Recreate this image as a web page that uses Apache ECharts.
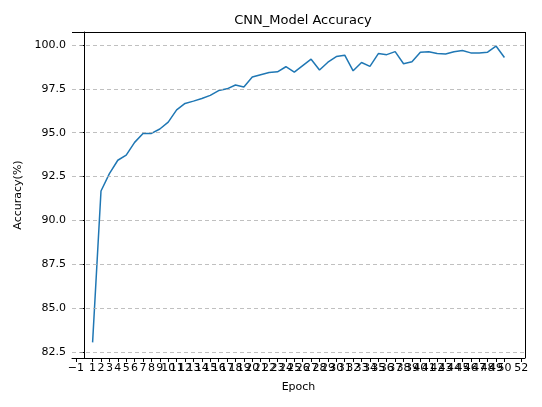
<!DOCTYPE html>
<html>
<head>
<meta charset="utf-8">
<script src="https://cdn.jsdelivr.net/npm/echarts@6/dist/echarts.min.js"></script>
<style>html,body{margin:0;padding:0;background:#fff}#c{width:542px;height:407px}</style>
</head>
<body>
<div id="c"></div>
<script>
var epochs = [];
for (var e = 1; e <= 50; e++) epochs.push(e);
var accuracy = [83.05, 91.68, 92.67, 93.43, 93.72, 94.45, 94.96, 94.96, 95.21, 95.6,
  96.3, 96.67, 96.8, 96.95, 97.13, 97.4, 97.5, 97.72, 97.6, 98.17,
  98.3, 98.43, 98.47, 98.76, 98.45, 98.82, 99.19, 98.57, 99.02, 99.34,
  99.42, 98.53, 99.0, 98.78, 99.51, 99.45, 99.62, 98.93, 99.04, 99.59,
  99.62, 99.51, 99.49, 99.62, 99.68, 99.55, 99.55, 99.59, 99.94, 99.29];
var xTicks = [];
for (var t = -1; t <= 52; t++) xTicks.push(t);
var yTicks = [82.5, 85, 87.5, 90, 92.5, 95, 97.5, 100];

var font = 'DejaVu Sans';
var ec = echarts.init(document.getElementById('c'));
ec.setOption({
  animation: false,
  title: {
    text: 'CNN_Model Accuracy', left: 298, top: 9, textAlign: 'center',
    textStyle: { fontFamily: font, fontSize: 13, fontWeight: 'normal', color: '#000' }
  },
  grid: { left: 72, right: 17, top: 32, bottom: 49 },
  xAxis: {
    type: 'value', min: -1.45, max: 52.45,
    name: 'Epoch', nameLocation: 'middle', nameGap: 24,
    nameTextStyle: { fontFamily: font, fontSize: 11, color: '#000' },
    axisLine: { onZero: false, lineStyle: { color: '#000' } },
    axisTick: { customValues: xTicks, length: 4, lineStyle: { color: '#000' } },
    axisLabel: { customValues: xTicks, interval: 0, hideOverlap: false, showMinLabel: true, showMaxLabel: true,
      fontFamily: font, fontSize: 11, color: '#000', margin: 5,
      formatter: function (v) { return v < 0 ? '\u2212' + (-v) : String(v); } },
    splitLine: { show: false }
  },
  yAxis: {
    type: 'value', min: 82.16, max: 100.74,
    name: 'Accuracy(%)', nameLocation: 'middle', nameGap: 47,
    nameTextStyle: { fontFamily: font, fontSize: 11, color: '#000' },
    axisLine: { show: true, lineStyle: { color: '#000' } },
    axisTick: { show: true, customValues: yTicks, length: 4, lineStyle: { color: '#000' } },
    axisLabel: { customValues: yTicks, fontFamily: font, fontSize: 11, color: '#000', margin: 6,
      formatter: function (v) { return v.toFixed(1); } },
    splitLine: { show: false }
  },
  series: [{
    type: 'line',
    data: epochs.map(function (x, i) { return [x, accuracy[i]]; }),
    symbol: 'none',
    lineStyle: { color: '#1f77b4', width: 1.5 },
    markLine: {
      silent: true, symbol: 'none', label: { show: false },
      lineStyle: { color: '#b0b0b0', type: [4, 3], width: 0.8 },
      data: yTicks.map(function (v) { return { yAxis: v }; })
    },
    z: 3
  }, {
    type: 'line', data: [], markLine: {
      silent: true, symbol: 'none', label: { show: false },
      lineStyle: { color: '#000', type: 'solid', width: 1 },
      data: [{ yAxis: 100.74 }, { xAxis: 52.45 }]
    }
  }]
});
</script>
</body>
</html>
